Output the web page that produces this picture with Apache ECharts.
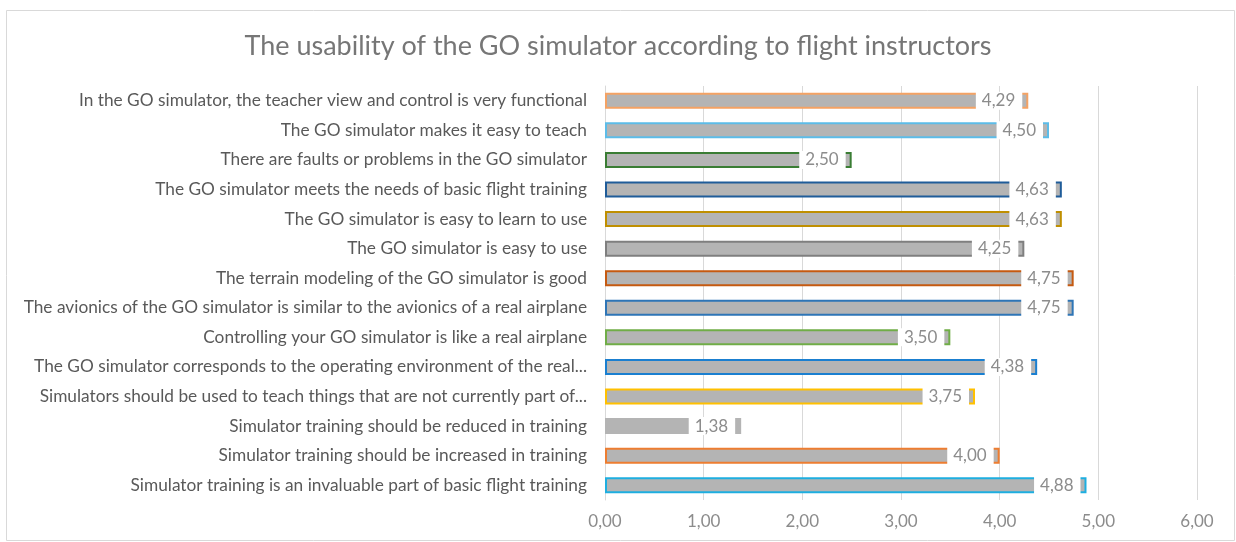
<!DOCTYPE html>
<html>
<head>
<meta charset="utf-8">
<script src="https://cdn.jsdelivr.net/npm/echarts@6/dist/echarts.min.js"></script>
<style>html,body{margin:0;padding:0;background:#fff}#c{width:1236px;height:542px}</style>
</head>
<body>
<div id="c"></div>
<script>
const categories = [
  "In the GO simulator, the teacher view and control is very functional",
  "The GO simulator makes it easy to teach",
  "There are faults or problems in the GO simulator",
  "The GO simulator meets the needs of basic flight training",
  "The GO simulator is easy to learn to use",
  "The GO simulator is easy to use",
  "The terrain modeling of the GO simulator is good",
  "The avionics of the GO simulator is similar to the avionics of a real airplane",
  "Controlling your GO simulator is like a real airplane",
  "The GO simulator corresponds to the operating environment of the real...",
  "Simulators should be used to teach things that are not currently part of...",
  "Simulator training should be reduced in training",
  "Simulator training should be increased in training",
  "Simulator training is an invaluable part of basic flight training"
];
const values = [4.29, 4.50, 2.50, 4.63, 4.63, 4.25, 4.75, 4.75, 3.50, 4.38, 3.75, 1.38, 4.00, 4.88];
const borderColors = ["#f4a264", "#5cbce8", "#3a7d34", "#1f5c99", "#bf8f00", "#7f7f7f", "#c55a11", "#2e75b6", "#70ad47", "#1a7fd0", "#ffc000", "#b4b4b4", "#ed7d31", "#1eaee0"];
const xTicks = [0, 1, 2, 3, 4, 5, 6];

const FONT = "Lato, 'Open Sans', sans-serif";
const fmt = v => v.toFixed(2).replace('.', ',');

const chart = echarts.init(document.getElementById('c'), null, {renderer: 'canvas'});
chart.setOption({
  backgroundColor: '#fff',
  animation: false,
  graphic: [{
    type: 'rect', left: 4, top: 8, silent: true,
    shape: {width: 1228, height: 530},
    style: {fill: 'none', stroke: '#d9d9d9', lineWidth: 1}
  }],
  title: {
    text: 'The usability of the GO simulator according to flight instructors',
    left: 'center', top: 28,
    textStyle: {fontFamily: FONT, fontSize: 27, fontWeight: 'normal', color: '#767676'}
  },
  grid: {left: 605, right: 39, top: 86, bottom: 42, containLabel: false},
  xAxis: {
    type: 'value', min: xTicks[0], max: xTicks[xTicks.length - 1], interval: 1,
    axisLine: {show: false}, axisTick: {show: false},
    splitLine: {lineStyle: {color: '#d9d9d9', width: 1}},
    axisLabel: {formatter: v => fmt(v), color: '#8c8c8c', fontFamily: FONT, fontSize: 17, margin: 13}
  },
  yAxis: {
    type: 'category', data: categories, inverse: true,
    axisLine: {show: true, lineStyle: {color: '#d9d9d9'}}, axisTick: {show: false},
    axisLabel: {color: '#595959', fontFamily: FONT, fontSize: 17.3, margin: 18}
  },
  series: [{
    type: 'bar',
    barWidth: 16,
    data: values.map((v, i) => ({
      value: v,
      itemStyle: {color: '#b4b4b4', borderColor: borderColors[i], borderWidth: 2}
    })),
    label: {
      show: true, position: 'insideRight', distance: 6,
      formatter: p => fmt(p.value),
      color: '#8c8c8c', fontFamily: FONT, fontSize: 17,
      backgroundColor: '#fff', padding: [1, 7, 0, 6], lineHeight: 17
    }
  }]
});
</script>
</body>
</html>
